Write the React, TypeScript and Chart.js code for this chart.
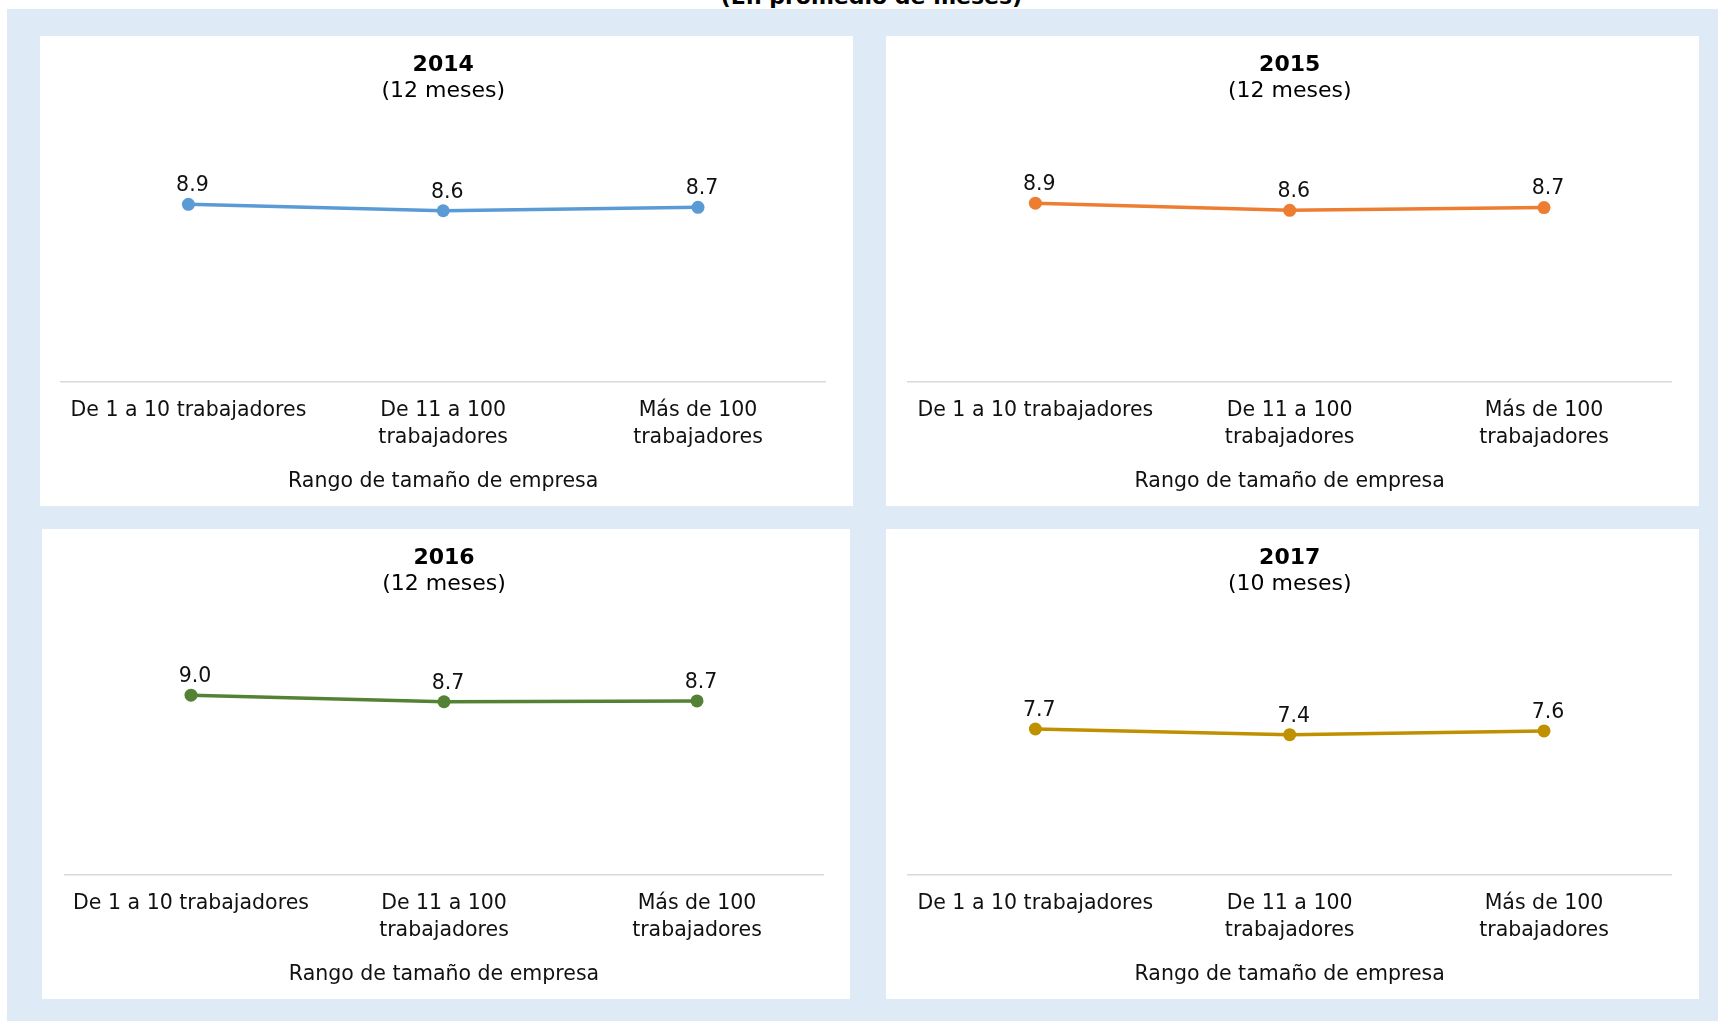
import React, { useEffect, useRef } from "react";
import { Chart, registerables } from "chart.js";

Chart.register(...registerables);

// ---------- data ----------
const MAIN_TITLE = "(En promedio de meses)";
const CATEGORIES: string[][] = [
  ["De 1 a 10 trabajadores"],
  ["De 11 a 100", "trabajadores"],
  ["Más de 100", "trabajadores"],
];
const AXIS_TITLE = "Rango de tamaño de empresa";
const YEARS = ["2014", "2015", "2016", "2017"];
const PERIODS = ["(12 meses)", "(12 meses)", "(12 meses)", "(10 meses)"];
const VALUES_2014 = [8.88, 8.56, 8.73];
const VALUES_2015 = [8.94, 8.58, 8.72];
const VALUES_2016 = [8.99, 8.66, 8.7];
const VALUES_2017 = [7.7, 7.4, 7.6];
const SERIES = [VALUES_2014, VALUES_2015, VALUES_2016, VALUES_2017];
const Y_MAX = [10, 10, 10, 10.56];

// ---------- styles / layout ----------
const COLORS = ["#5B9BD5", "#ED7D31", "#548235", "#BF9000"];
const BG_BLUE = "#DEEAF6";
const FONT = '"DejaVu Sans", sans-serif';
const PANELS = [
  { left: 40, top: 36, width: 813, height: 470, padL: 21, padR: 27.6 },
  { left: 886, top: 36, width: 813, height: 470, padL: 22.2, padR: 27.8 },
  { left: 42, top: 529, width: 808, height: 470, padL: 22.5, padR: 26.5 },
  { left: 886, top: 529, width: 813, height: 470, padL: 22.2, padR: 27.8 },
];

const valueLabels = {
  id: "valueLabels",
  afterDatasetsDraw(chart: any) {
    const ctx = chart.ctx;
    const meta = chart.getDatasetMeta(0);
    const data = chart.data.datasets[0].data as number[];
    ctx.save();
    ctx.font = `20.5px ${FONT}`;
    ctx.fillStyle = "#111111";
    ctx.textAlign = "center";
    ctx.textBaseline = "middle";
    meta.data.forEach((pt: any, i: number) => {
      ctx.fillText(Number(data[i]).toFixed(1), pt.x + 4, pt.y - 18.5);
    });
    ctx.restore();
  },
};

function Panel({ idx }: { idx: number }) {
  const ref = useRef<HTMLCanvasElement | null>(null);
  const p = PANELS[idx];
  useEffect(() => {
    if (!ref.current) return;
    const color = COLORS[idx];
    const chart = new Chart(ref.current, {
      type: "line",
      data: {
        labels: CATEGORIES,
        datasets: [
          {
            data: SERIES[idx],
            borderColor: color,
            backgroundColor: color,
            borderWidth: 3.5,
            pointRadius: 6.5,
            pointBackgroundColor: color,
            pointBorderWidth: 0,
            tension: 0,
            clip: false as any,
          },
        ],
      },
      options: {
        animation: false,
        responsive: false,
        maintainAspectRatio: false,
        layout: { padding: { left: p.padL, right: p.padR, top: 0, bottom: 0 } },
        plugins: {
          legend: { display: false },
          tooltip: { enabled: false },
          title: {
            display: true,
            text: YEARS[idx],
            color: "#000000",
            font: { family: FONT, size: 22, weight: "bold", lineHeight: 1.2 },
            padding: { top: 16, bottom: 0 },
          },
          subtitle: {
            display: true,
            text: PERIODS[idx],
            color: "#000000",
            font: { family: FONT, size: 22, weight: "normal", lineHeight: 1.2 },
            padding: { top: 0, bottom: 77.2 },
          },
        },
        scales: {
          x: {
            type: "category",
            offset: true,
            grid: { display: false, drawTicks: false },
            border: { display: true, color: "#D9D9D9", width: 1.5 },
            ticks: {
              color: "#111111",
              font: { family: FONT, size: 20.5, lineHeight: 1.3 },
              padding: 16,
              autoSkip: false,
              maxRotation: 0,
              minRotation: 0,
            },
            title: {
              display: true,
              text: AXIS_TITLE,
              color: "#111111",
              font: { family: FONT, size: 20.5, lineHeight: 1.22 },
              padding: { top: 2.4, bottom: 11.8 },
            },
          },
          y: {
            display: false,
            min: 0,
            max: Y_MAX[idx],
          },
        },
      },
      plugins: [valueLabels],
    });
    return () => chart.destroy();
  }, [idx]);
  return (
    <div
      style={{
        position: "absolute",
        left: p.left,
        top: p.top,
        width: p.width,
        height: p.height,
        background: "#FFFFFF",
      }}
    >
      <canvas ref={ref} width={p.width} height={p.height} style={{ display: "block", width: p.width, height: p.height }} />
    </div>
  );
}

export default function App() {
  return (
    <div
      style={{
        position: "fixed",
        left: 0,
        top: 0,
        width: 1718,
        height: 1021,
        background: "#FFFFFF",
        overflow: "hidden",
      }}
    >
      <div
        style={{
          position: "absolute",
          left: 0,
          width: 1743,
          top: -13.6,
          textAlign: "center",
          fontFamily: FONT,
          fontWeight: "bold",
          fontSize: 22,
          lineHeight: "22px",
          color: "#000000",
          whiteSpace: "nowrap",
        }}
      >
        {MAIN_TITLE}
      </div>
      <div
        style={{
          position: "absolute",
          left: 7,
          top: 9,
          width: 1711,
          height: 1012,
          background: BG_BLUE,
        }}
      />
      {PANELS.map((_, i) => (
        <Panel key={i} idx={i} />
      ))}
    </div>
  );
}
